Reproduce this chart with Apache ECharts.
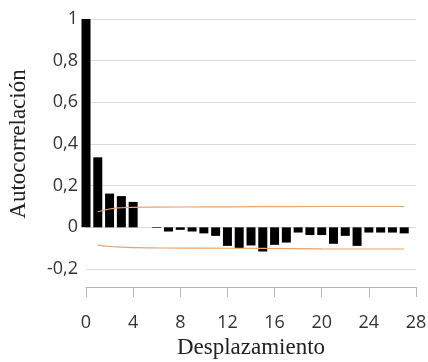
<!DOCTYPE html>
<html>
<head>
<meta charset="utf-8">
<script src="https://cdn.jsdelivr.net/npm/echarts@6/dist/echarts.min.js"></script>
<style>
  html, body { margin: 0; padding: 0; background: #fff; }
  #main { width: 428px; height: 362px; }
</style>
</head>
<body>
<div id="main"></div>
<script>
// desplazamientos (lags) y autocorrelación
var lags = [0,1,2,3,4,5,6,7,8,9,10,11,12,13,14,15,16,17,18,19,20,21,22,23,24,25,26,27];
var acf = [1, 0.336, 0.162, 0.150, 0.122, 0, -0.003, -0.02, -0.012, -0.02,
           -0.029, -0.041, -0.089, -0.1, -0.087, -0.116, -0.084, -0.073, -0.025, -0.037,
           -0.037, -0.079, -0.041, -0.089, -0.025, -0.025, -0.025, -0.029];
// límites de confianza (desde lag 1)
var confLags = [1,2,3,4,6,10,15,20,27];
var upper = [0.075, 0.088, 0.094, 0.096, 0.097, 0.098, 0.099, 0.1, 0.1];
var lower = [-0.085, -0.092, -0.095, -0.097, -0.099, -0.1, -0.101, -0.103, -0.104];
var yTicks = [-0.2, 0, 0.2, 0.4, 0.6, 0.8, 1];

var myChart = echarts.init(document.getElementById('main'));

function pairs(xs, ys) {
    return xs.map(function (x, i) { return [x, ys[i]]; });
}

var option = {
    animation: false,
    grid: { left: 86, right: 12, top: 19, bottom: 93, containLabel: false, outerBoundsMode: 'none' },
    xAxis: {
        type: 'value',
        min: 0, max: 28, interval: 4,
        offset: 18,
        name: 'Desplazamiento',
        nameLocation: 'middle',
        nameGap: 49,
        nameTextStyle: { fontFamily: 'Liberation Serif', fontSize: 23, color: '#222' },
        axisLine: { show: true, onZero: false, lineStyle: { color: '#b5b5b5', width: 1 } },
        axisTick: { show: true, length: 10, lineStyle: { color: '#b5b5b5', width: 1 } },
        axisLabel: { margin: 27, fontFamily: 'Open Sans', fontSize: 18, color: '#333' },
        splitLine: { show: false }
    },
    yAxis: {
        type: 'value',
        min: yTicks[0], max: yTicks[yTicks.length - 1], interval: 0.2,
        name: 'Autocorrelación',
        nameLocation: 'middle',
        nameGap: 56,
        nameTextStyle: { fontFamily: 'Liberation Serif', fontSize: 23, color: '#222' },
        axisLine: { show: false },
        axisTick: { show: false },
        axisLabel: {
            margin: 8, fontFamily: 'Open Sans', fontSize: 18, color: '#333',
            formatter: function (v) { return String(Math.round(v * 10) / 10).replace('.', ','); }
        },
        splitLine: { show: true, lineStyle: { color: '#dcdcdc', width: 1 } }
    },
    series: [
        {
            type: 'bar',
            data: pairs(lags, acf),
            barWidth: 9,
            itemStyle: { color: '#000' },
            z: 3
        },
        {
            type: 'line',
            data: pairs(confLags, upper),
            smooth: true,
            showSymbol: false,
            lineStyle: { color: '#e9a46e', width: 1.2 },
            z: 4
        },
        {
            type: 'line',
            data: pairs(confLags, lower),
            smooth: true,
            showSymbol: false,
            lineStyle: { color: '#e9a46e', width: 1.2 },
            z: 4
        }
    ]
};
myChart.setOption(option);
</script>
</body>
</html>
